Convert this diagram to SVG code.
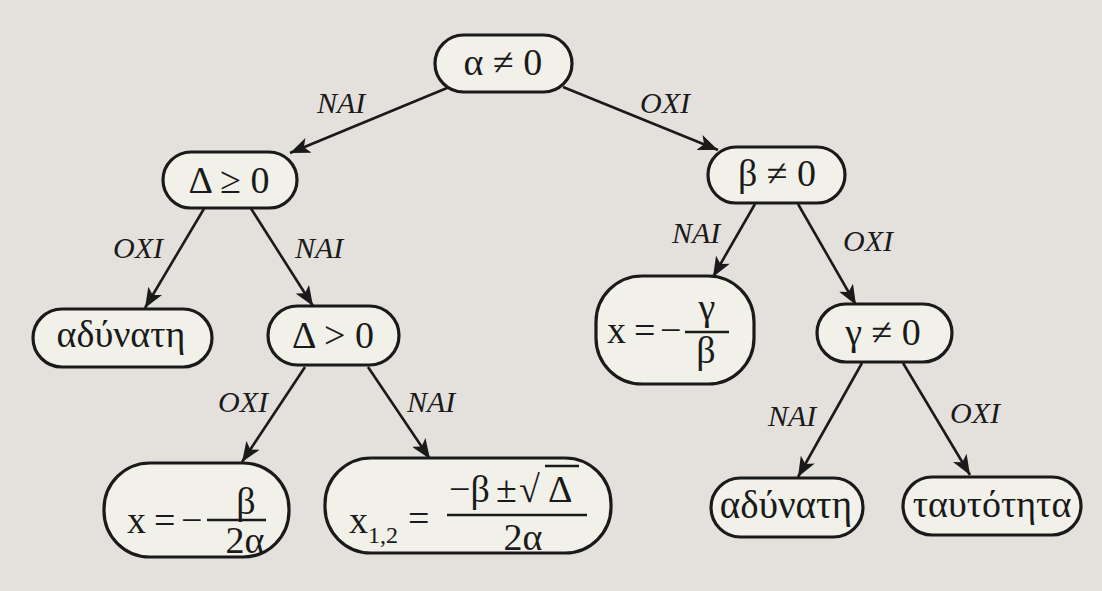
<svg xmlns="http://www.w3.org/2000/svg" width="1102" height="591" viewBox="0 0 1102 591">
<defs>
<marker id="ah" markerWidth="22" markerHeight="16" refX="20" refY="8" orient="auto" markerUnits="userSpaceOnUse">
<path d="M0,0 L20,8 L0,16 L5,8 Z" fill="#1a1a1a"/>
</marker>
</defs>
<style>
.n{fill:#f1f1e9;stroke:#1a1a1a;stroke-width:3.2}
.t{font-family:"Liberation Serif","DejaVu Serif",serif;font-size:38px;fill:#1a1a1a}
.s{font-size:24px}
.g{font-size:39px}
.l{font-family:"Liberation Serif","DejaVu Serif",serif;font-size:30px;font-style:italic;fill:#1a1a1a}
.e{stroke:#1a1a1a;stroke-width:2.6;fill:none;marker-end:url(#ah)}
.b{stroke:#1a1a1a;stroke-width:2.4}
</style>
<rect width="1102" height="591" fill="#e4e1dc"/>
<g id="connectors">
<line class="e" x1="447" y1="88" x2="290" y2="153"/>
<line class="e" x1="563" y1="87" x2="718" y2="150"/>
<line class="e" x1="205" y1="207" x2="145" y2="308"/>
<line class="e" x1="250" y1="207" x2="313" y2="306"/>
<line class="e" x1="755" y1="204" x2="713" y2="277"/>
<line class="e" x1="798" y1="204" x2="856" y2="305"/>
<line class="e" x1="305" y1="367" x2="242" y2="462"/>
<line class="e" x1="368" y1="367" x2="430" y2="459"/>
<line class="e" x1="862" y1="363" x2="798" y2="477"/>
<line class="e" x1="903" y1="363" x2="970" y2="475"/>
<text class="l" x="317" y="113">NAI</text>
<text class="l" x="640" y="113">OXI</text>
<text class="l" x="113" y="258">OXI</text>
<text class="l" x="295" y="258">NAI</text>
<text class="l" x="672" y="243">NAI</text>
<text class="l" x="843" y="251">OXI</text>
<text class="l" x="218" y="412">OXI</text>
<text class="l" x="407" y="412">NAI</text>
<text class="l" x="768" y="426">NAI</text>
<text class="l" x="950" y="423">OXI</text>
</g>
<g id="n1"><rect class="n" x="435" y="35" width="137" height="57" rx="28.5"/><text class="t" x="503" y="75" text-anchor="middle">α ≠ 0</text></g>
<g id="n2"><rect class="n" x="163" y="152" width="134" height="56" rx="28"/><text class="t" x="229" y="193" text-anchor="middle">Δ ≥ 0</text></g>
<g id="n3"><rect class="n" x="708" y="147" width="137" height="56" rx="28"/><text class="t" x="777" y="186" text-anchor="middle">β ≠ 0</text></g>
<g id="n4"><rect class="n" x="33" y="309" width="179" height="58" rx="29"/><text class="t" x="121" y="347" text-anchor="middle">αδύνατη</text></g>
<g id="n5"><rect class="n" x="268" y="306" width="131" height="59" rx="29.5"/><text class="t" x="333" y="348" text-anchor="middle">Δ &gt; 0</text></g>
<g id="n6"><rect class="n" x="596" y="276" width="158" height="108" rx="46"/>
<text class="t" x="607" y="343">x</text>
<text class="t" x="634" y="343">=</text>
<text class="t" x="660" y="343">−</text>
<line class="b" x1="685" y1="332" x2="729" y2="332"/>
<text class="t" x="707" y="320" text-anchor="middle">γ</text>
<text class="t" x="706" y="363" text-anchor="middle">β</text></g>
<g id="n7"><rect class="n" x="817" y="304" width="135" height="58" rx="29"/><text class="t" x="883" y="345" text-anchor="middle">γ ≠ 0</text></g>
<g id="n8"><rect class="n" x="104" y="463" width="185" height="94" rx="46"/>
<text class="t" x="127" y="533">x</text>
<text class="t" x="154" y="533">=</text>
<text class="t" x="181" y="533">−</text>
<line class="b" x1="207" y1="520" x2="266" y2="520"/>
<text class="t" x="246" y="514" text-anchor="middle">β</text>
<text class="t" x="245" y="553" text-anchor="middle">2α</text></g>
<g id="n9"><rect class="n" x="325" y="458" width="286" height="95" rx="46"/>
<text class="t" x="349" y="533">x</text>
<text class="t s" x="368" y="543">1,2</text>
<text class="t" x="408" y="531">=</text>
<line class="b" x1="447" y1="515" x2="587" y2="515"/>
<text class="t" x="449" y="502">−β</text>
<text class="t" x="496" y="502">±</text>
<text class="t" x="519" y="502">√</text>
<line class="b" x1="545" y1="466" x2="579" y2="466"/>
<text class="t" x="548" y="502">Δ</text>
<text class="t" x="523" y="550" text-anchor="middle">2α</text></g>
<g id="n10"><rect class="n" x="711" y="478" width="152" height="59" rx="29.5"/><text class="t g" x="786" y="518" text-anchor="middle">αδύνατη</text></g>
<g id="n11"><rect class="n" x="903" y="477" width="178" height="58" rx="29"/><text class="t" x="992" y="517" text-anchor="middle">ταυτότητα</text></g>
</svg>
